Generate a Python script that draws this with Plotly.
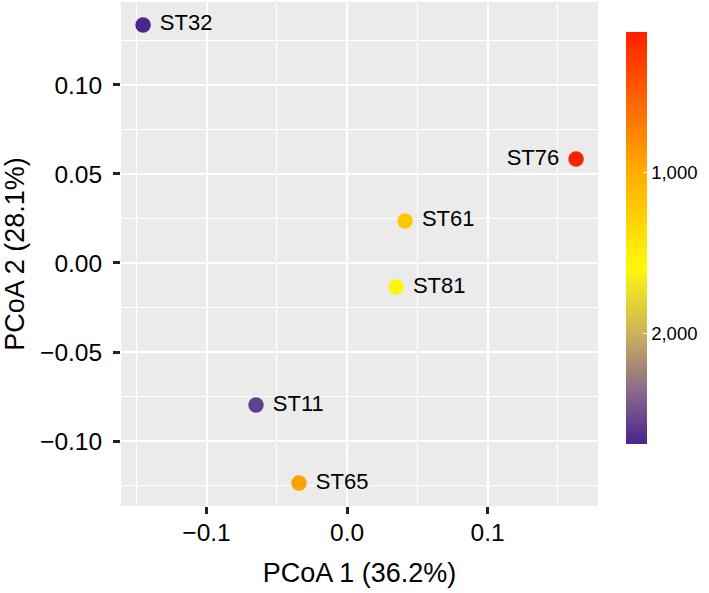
import plotly.graph_objects as go

labels = ["ST32", "ST76", "ST61", "ST81", "ST11", "ST65"]
pcoa1 = [-0.1452, 0.1630, 0.0413, 0.0349, -0.0648, -0.0342]
pcoa2 = [0.1337, 0.0584, 0.0236, -0.0135, -0.0798, -0.1236]
value = [2683, 130, 1215, 1560, 2560, 937]
cbar_ticks = [1000, 2000]
cbar_text = ["1,000", "2,000"]
x_ticks = [-0.1, 0.0, 0.1]
x_ticktext = ["\u22120.1", "0.0", "0.1"]
y_ticks = [-0.10, -0.05, 0.00, 0.05, 0.10]
y_ticktext = ["\u22120.10", "\u22120.05", "0.00", "0.05", "0.10"]

FONT = "Liberation Sans, Arial, sans-serif"
vmin, vmax = min(value), max(value)
colorscale = [
    [0.0, "#4A258E"],
    [0.12, "#86658A"],
    [0.27, "#CDB35A"],
    [0.43, "#FFF80A"],
    [0.66, "#FFAC00"],
    [1.0, "#FF2000"],
]

textpos = ["middle left" if l == "ST76" else "middle right" for l in labels]
neg = [-v for v in value]

fig = go.Figure()
fig.add_trace(go.Scatter(
    x=pcoa1, y=pcoa2, mode="markers+text",
    text=[" " + l if p == "middle right" else l + " " for l, p in zip(labels, textpos)],
    textposition=textpos,
    textfont=dict(family=FONT, size=22, color="black"),
    marker=dict(
        size=15.5, color=neg, colorscale=colorscale, cmin=-vmax, cmax=-vmin,
        line=dict(width=0),
        colorbar=dict(
            tickvals=[-t for t in cbar_ticks], ticktext=cbar_text,
            thickness=21, len=412, lenmode="pixels",
            x=1.0587, xanchor="left", xref="paper",
            y=(506 - 238) / 504, yanchor="middle",
            ticks="inside", tickcolor="white", ticklen=4, tickwidth=1,
            outlinewidth=0, ypad=0, xpad=0,
            tickfont=dict(family=FONT, size=18.5, color="black"),
        ),
    ),
    showlegend=False, hoverinfo="text",
))

axis_common = dict(
    showline=False, zeroline=False, automargin=False,
    showgrid=True, gridcolor="white", gridwidth=2.2,
    ticks="outside", ticklen=7, tickwidth=3.2, tickcolor="#222222",
    tickfont=dict(family=FONT, size=24.5, color="black"),
)

fig.update_layout(
    width=709, height=593,
    margin=dict(l=121, r=111, t=2, b=87),
    paper_bgcolor="white", plot_bgcolor="#EBEBEB",
    font=dict(family=FONT, color="black"),
    xaxis=dict(
        range=[-0.1609, 0.1786], tickvals=x_ticks, ticktext=x_ticktext,
        ticklabelstandoff=-2,
        title=dict(text="PCoA 1 (36.2%)", font=dict(size=27), standoff=17),
        minor=dict(showgrid=True, gridcolor="white", gridwidth=1.1, tickvals=[-0.15, -0.05, 0.05, 0.15]),
        **axis_common,
    ),
    yaxis=dict(
        range=[-0.1365, 0.1466], tickvals=y_ticks, ticktext=y_ticktext,
        ticklabelstandoff=6,
        title=dict(text="PCoA 2 (28.1%)", font=dict(size=27), standoff=10),
        minor=dict(showgrid=True, gridcolor="white", gridwidth=1.1,
                   tickvals=[-0.125, -0.075, -0.025, 0.025, 0.075, 0.125]),
        **axis_common,
    ),
)

fig.write_html(
    "out.html",
    config={"displayModeBar": False},
    post_script="document.body.style.margin='0px';document.body.style.overflow='hidden';",
)
